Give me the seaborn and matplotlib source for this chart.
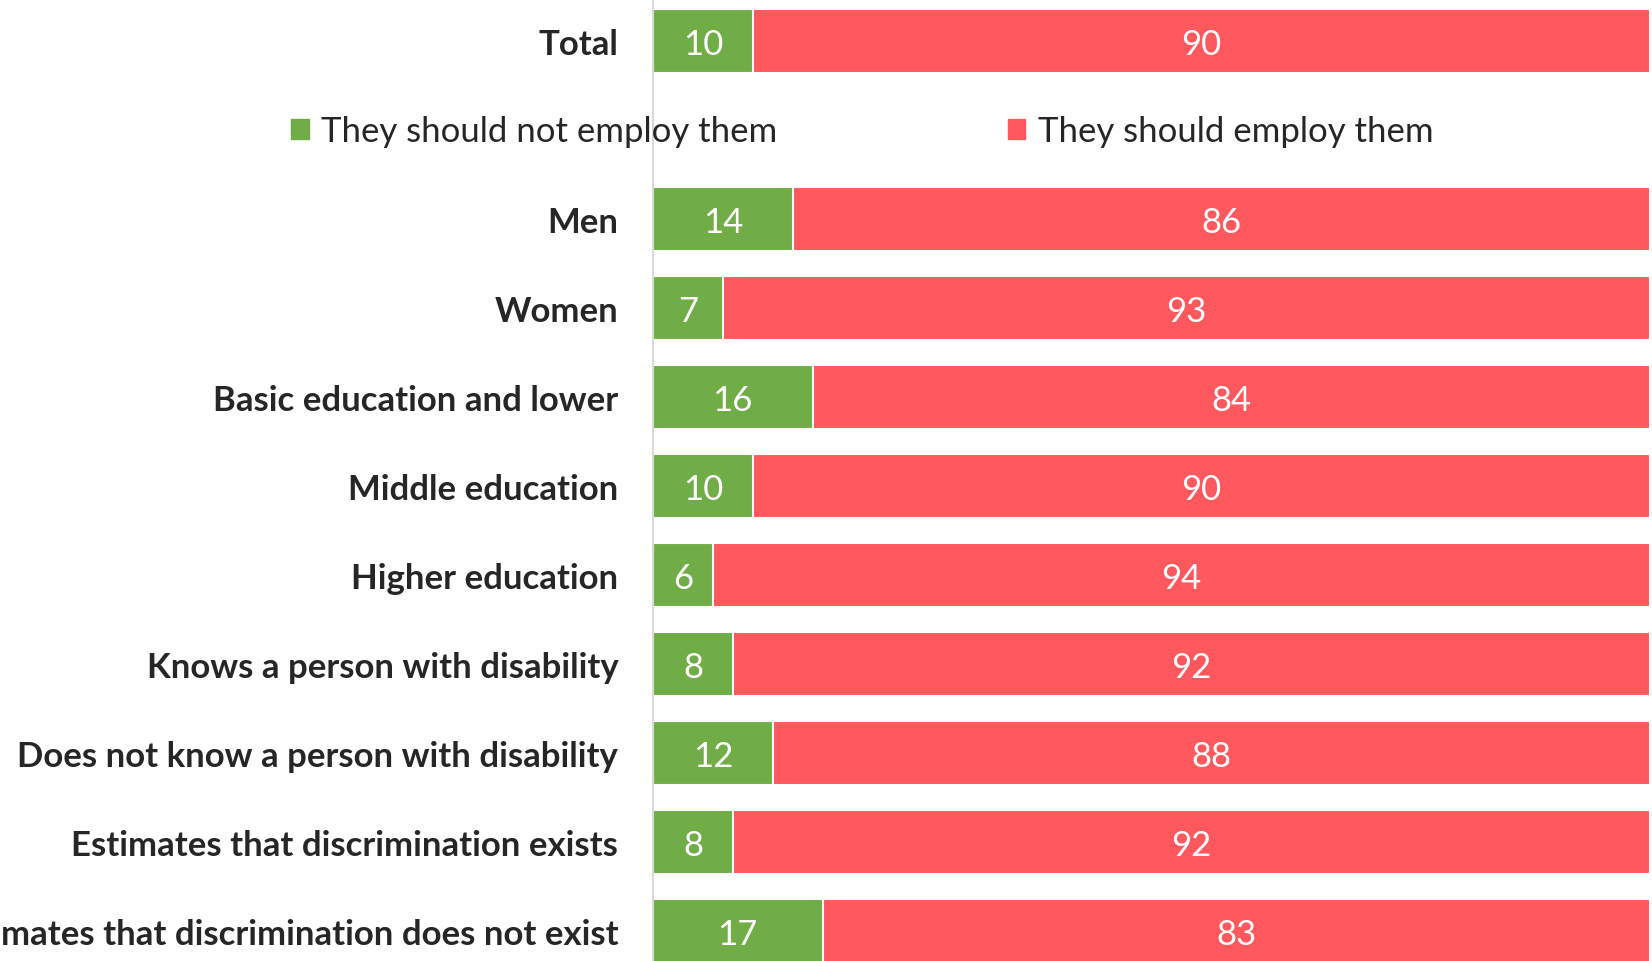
import matplotlib
matplotlib.use("Agg")
import matplotlib.pyplot as plt
import seaborn as sns
import pandas as pd
from matplotlib.patches import Patch

categories = ["Total", "", "Men", "Women", "Basic education and lower", "Middle education",
              "Higher education", "Knows a person with disability",
              "Does not know a person with disability", "Estimates that discrimination exists",
              "Estimates that discrimination does not exist"]
not_employ = [10, None, 14, 7, 16, 10, 6, 8, 12, 8, 17]
employ = [90, None, 86, 93, 84, 90, 94, 92, 88, 92, 83]
series_names = ["They should not employ them", "They should employ them"]

GREEN = "#70AD47"
RED = "#FF585D"
FONT = "Lato"

sns.set_theme(style="white")
plt.rcParams['font.family'] = [FONT, 'DejaVu Sans']

rows = [(c, g, r) for c, g, r in zip(categories, not_employ, employ) if g is not None]
df = pd.DataFrame(rows, columns=["cat", "green", "red"])
df["total"] = df["green"] + df["red"]

fig = plt.figure(figsize=(16.52, 9.62), dpi=100)
ax = fig.add_axes([0.3953, 0.0, 0.6035, 1.0])

sns.barplot(data=df, y="cat", x="total", order=categories, orient="h", color=RED,
            width=0.71, saturation=1, edgecolor="white", linewidth=1.5, ax=ax)
sns.barplot(data=df, y="cat", x="green", order=categories, orient="h", color=GREEN,
            width=0.71, saturation=1, edgecolor="white", linewidth=1.5, ax=ax)

pos = {c: i for i, c in enumerate(categories)}
for _, r in df.iterrows():
    y = pos[r["cat"]]
    ax.text(r["green"] / 2, y, f"{r['green']:g}", ha="center", va="center_baseline",
            color="white", fontsize=25)
    ax.text(r["green"] + r["red"] / 2, y, f"{r['red']:g}", ha="center", va="center_baseline",
            color="white", fontsize=25)

ax.set_xlim(0, 100)
ax.set_ylim(10.337, -0.472)
ax.set_xlabel("")
ax.set_ylabel("")
ax.set_xticks([])
ax.tick_params(axis="y", length=0, pad=25, labelsize=25)
for lab in ax.get_yticklabels():
    lab.set_fontweight("bold")
    lab.set_color("#262626")
    lab.set_verticalalignment("center_baseline")
for s in ["top", "right", "bottom"]:
    ax.spines[s].set_visible(False)
ax.spines["left"].set_color("#D9D9D9")
ax.spines["left"].set_linewidth(1.5)

handles = [Patch(color=GREEN, label=series_names[0]), Patch(color=RED, label=series_names[1])]
fig.legend(handles=handles, loc="center", bbox_to_anchor=(0.522, 1 - 132 / 962), ncol=2,
           frameon=False, fontsize=25, handlelength=0.5, handleheight=0.5,
           handletextpad=0.35, columnspacing=6.65, labelcolor="#262626")

fig.savefig("out.png", dpi=100)
